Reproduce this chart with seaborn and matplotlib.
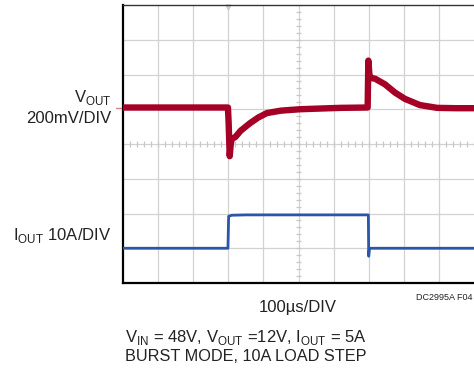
import numpy as np
import pandas as pd
import matplotlib
matplotlib.use("Agg")
import matplotlib.pyplot as plt
import seaborn as sns

# scope traces, in divisions (x: 0-10 time div, y: 0-8 vertical div)
vout_t = [0.0, 1.0, 2.0, 2.99, 3.01, 3.04, 3.07, 3.1, 3.2, 3.35, 3.62, 3.85,
          4.1, 4.5, 5.04, 5.6, 6.2, 6.97, 6.99, 7.02, 7.06, 7.18, 7.46, 7.75,
          8.03, 8.46, 8.95, 9.5, 10.0]
vout_v = [5.05, 5.05, 5.05, 5.05, 4.6, 3.65, 4.0, 4.15, 4.2, 4.38, 4.6, 4.76,
          4.89, 4.96, 5.0, 5.02, 5.04, 5.05, 6.4, 6.0, 5.9, 5.88, 5.72, 5.48,
          5.3, 5.12, 5.04, 5.03, 5.03]

iout_t = [0.0, 2.99, 3.01, 3.1, 3.5, 5.0, 6.99, 7.0, 7.02, 7.05, 10.0]
iout_v = [1.0, 1.0, 1.92, 1.95, 1.96, 1.96, 1.96, 0.77, 0.98, 1.0, 1.0]

vout = pd.DataFrame({"t": vout_t, "v": vout_v})
iout = pd.DataFrame({"t": iout_t, "v": iout_v})

sns.set_style("white")
plt.rcParams["font.family"] = ["Liberation Sans", "DejaVu Sans"]
plt.rcParams["mathtext.fontset"] = "custom"
plt.rcParams["mathtext.rm"] = "Liberation Sans"

W, H = 474, 369
fig = plt.figure(figsize=(W / 100, H / 100), dpi=100)
ax = fig.add_axes([123 / W, (H - 283) / H, (W - 123) / W, 278 / H])
ax.set_xlim(0, 10)
ax.set_ylim(0, 8)

# graticule
for x in range(1, 10):
    ax.axvline(x, color="#d2d2d2", lw=0.9, zorder=0)
for y in range(1, 8):
    ax.axhline(y, color="#d2d2d2", lw=0.9, zorder=0)
minor_x = np.arange(0, 10.01, 0.2)
minor_y = np.arange(0, 8.01, 0.2)
ax.vlines(minor_x, 4 - 0.08, 4 + 0.08, color="#c8c8c8", lw=0.9, zorder=0)
ax.hlines(minor_y, 5 - 0.08, 5 + 0.08, color="#c8c8c8", lw=0.9, zorder=0)
ax.plot([3], [7.94], marker="v", ms=3.5, color="#cccccc", clip_on=False, zorder=1)

sns.lineplot(data=vout, x="t", y="v", ax=ax, color="#a50026", lw=4.6,
             sort=False, estimator=None, zorder=3)
sns.lineplot(data=iout, x="t", y="v", ax=ax, color="#2b55a8", lw=2.0,
             sort=False, estimator=None, zorder=3)

ax.set_xticks([])
ax.set_yticks([])
ax.set_xlabel("")
ax.set_ylabel("")
for s in ["left", "bottom"]:
    ax.spines[s].set_color("black")
    ax.spines[s].set_linewidth(1.6)
ax.spines["top"].set_color("#333333")
ax.spines["top"].set_linewidth(1.0)
ax.spines["right"].set_visible(False)

# small channel marker for VOUT
ax.plot([-0.2, -0.06], [5.05, 5.05], color="#e08080", lw=1, clip_on=False)


def ft(x, y, s, **kw):
    fig.text(x / W, 1 - y / H, s, color="#222222", **kw)


ft(112, 102, r"V$_{\mathrm{OUT}}$", ha="right", va="baseline", fontsize=12)
ft(111, 123, "200mV/DIV", ha="right", va="baseline", fontsize=12)
ft(111, 240, r"I$_{\mathrm{OUT}}$ 10A/DIV", ha="right", va="baseline", fontsize=12)
ft(298, 312, "100µs/DIV", ha="center", va="baseline", fontsize=12)
ft(473, 300, "DC2995A F04", ha="right", va="baseline", fontsize=6.5)
ft(125, 342, r"V$_{\mathrm{IN}}$ = 48V, V$_{\mathrm{OUT}}$ =12V, I$_{\mathrm{OUT}}$ = 5A",
   ha="left", va="baseline", fontsize=12)
ft(125, 361, "BURST MODE, 10A LOAD STEP", ha="left", va="baseline", fontsize=11.7)

fig.savefig("out.png", dpi=100)
